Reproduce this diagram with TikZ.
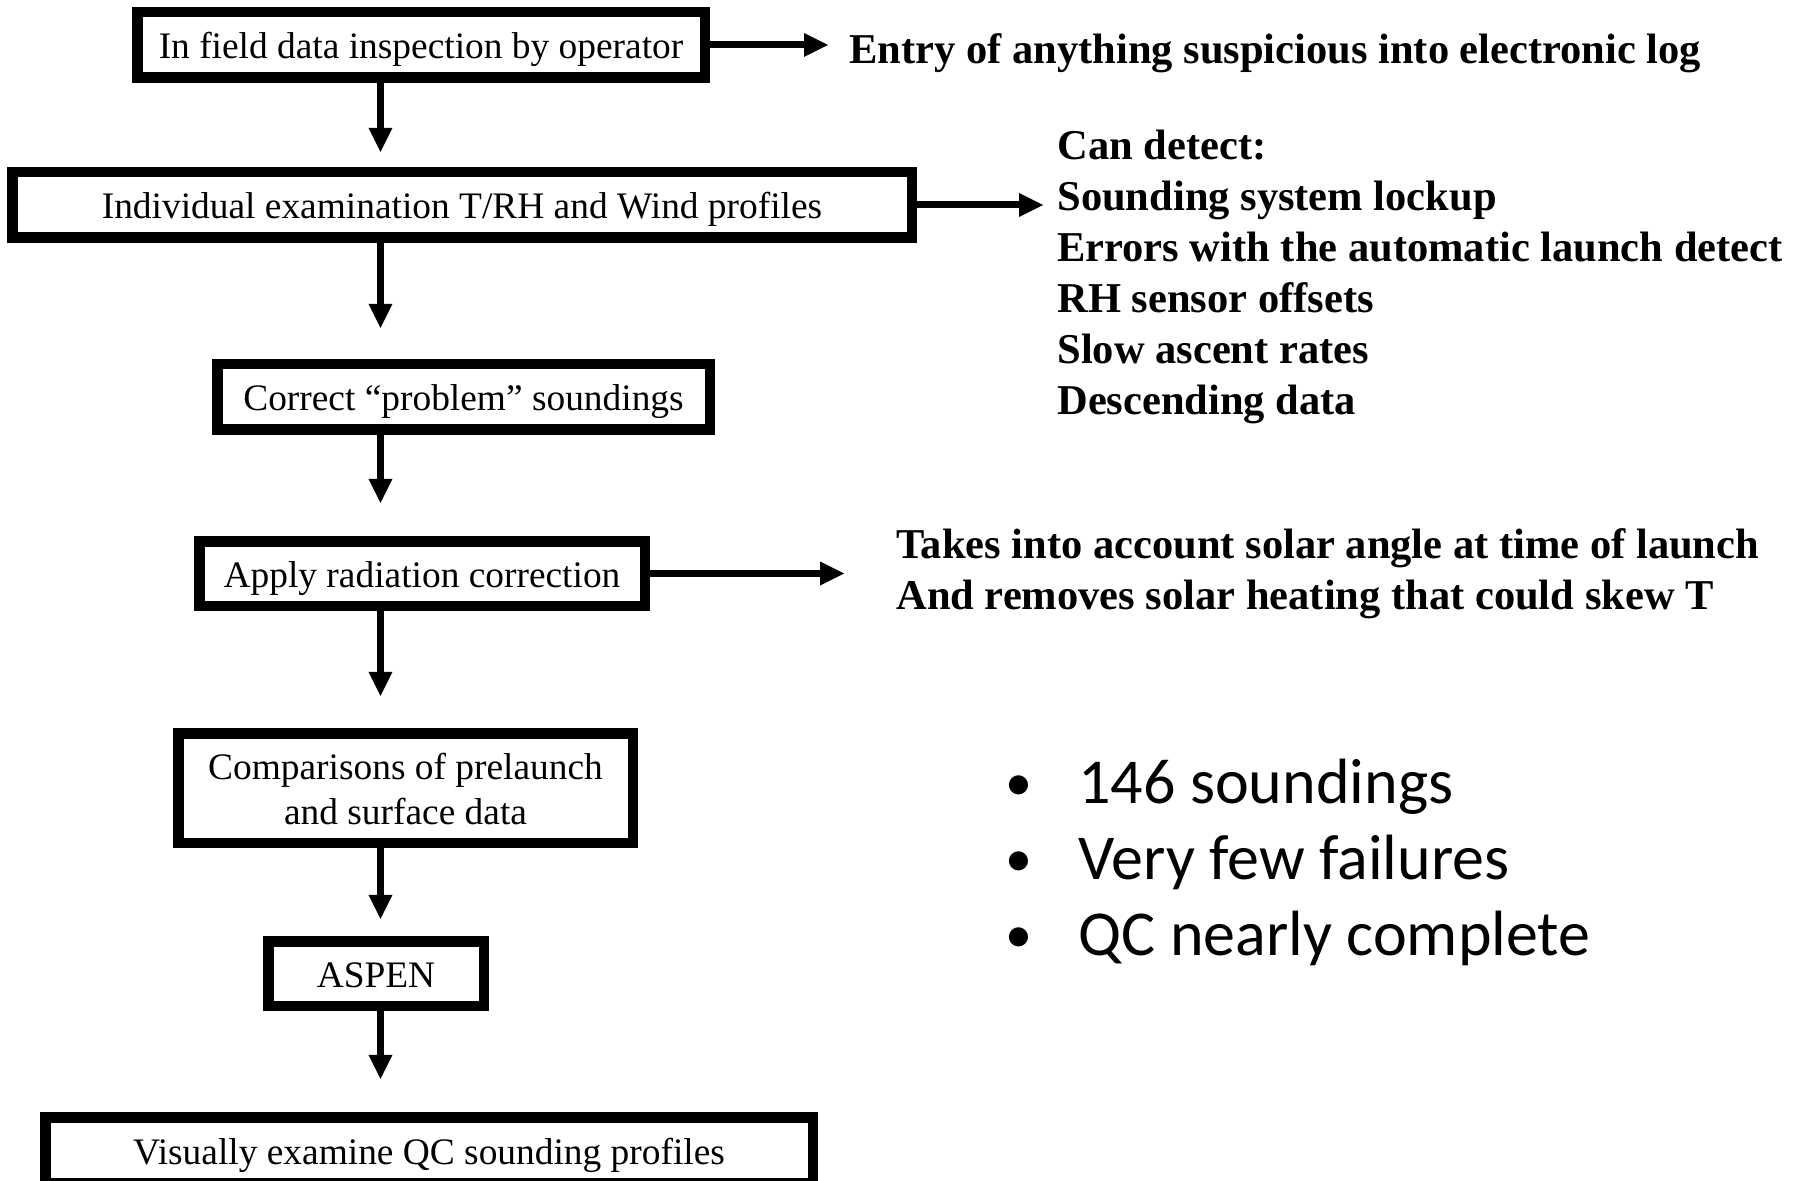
\documentclass[tikz,border=0pt]{standalone}
\usepackage{fontspec}
\setmainfont{Liberation Serif}
\newfontfamily\calibrifont{Carlito}
\usetikzlibrary{arrows.meta}
\begin{document}
\begin{tikzpicture}[x=0.5pt,y=-0.5pt,
  box/.style={draw, line width=5.25pt, fill=white, inner sep=0pt,
    font=\fontsize{18.7}{22.5}\selectfont, text height=16pt, text depth=2pt,
    minimum height=32.75pt},
  flow/.style={line width=3.5pt, -{Triangle[length=12pt,width=12pt,line width=0pt]}},
  note/.style={anchor=base west, inner sep=0pt, font=\fontsize{21.25}{25}\selectfont\bfseries},
  bul/.style={anchor=base, inner sep=0pt, font=\calibrifont\fontsize{27}{32}\selectfont},
  bultext/.style={anchor=base west, inner sep=0pt, font=\calibrifont\fontsize{32}{38}\selectfont}]
\useasboundingbox (0,0) rectangle (1802,1181);
\clip (0,0) rectangle (1802,1181);

% flow boxes
\node[box, minimum width=283.75pt] (B1) at (421,45) {In field data inspection by operator};
\node[box, minimum width=449.75pt] (B2) at (462,205) {Individual examination T/RH and Wind profiles};
\node[box, minimum width=246.25pt] (B3) at (463.5,397) {Correct “problem” soundings};
\node[box, minimum width=222.75pt, minimum height=32.25pt] (B4) at (422,573.5) {Apply radiation correction};
\node[box, minimum width=227.25pt, minimum height=54.75pt, text height=10pt, text depth=19pt] (B5) at (405.5,788)
  {\begin{tabular}[t]{@{}c@{}}Comparisons of prelaunch\\ and surface data\end{tabular}};
\node[box, minimum width=107.75pt, minimum height=32.25pt] (B6) at (376,973.5) {ASPEN};
\node[box, minimum width=383.75pt] (B7) at (429,1150) {Visually examine QC sounding profiles};

% vertical connectors
\coordinate (ax) at (380.5,0);
\draw[flow, shorten >=7.6pt]  (B1.south -| ax) -- (B2.north -| ax);
\draw[flow, shorten >=15.6pt] (B2.south -| ax) -- (B3.north -| ax);
\draw[flow, shorten >=16.6pt] (B3.south -| ax) -- (B4.north -| ax);
\draw[flow, shorten >=16.1pt] (B4.south -| ax) -- (B5.north -| ax);
\draw[flow, shorten >=8.6pt]  (B5.south -| ax) -- (B6.north -| ax);
\draw[flow, shorten >=16.6pt] (B6.south -| ax) -- (B7.north -| ax);

% horizontal connectors
\coordinate (t1) at (828,45);
\coordinate (t2) at (1043,205);
\coordinate (t4) at (844,573.5);
\draw[flow] (B1.east) -- (t1);
\draw[flow] (B2.east) -- (t2);
\draw[flow] (B4.east) -- (t4);

% notes
\node[note] (n1) at (849,64) {Entry of anything suspicious into electronic log};
\node[note] (d0) at (1057,160) {Can detect:};
\node[note] (d1) at (1057,211) {Sounding system lockup};
\node[note] (d2) at (1057,262) {Errors with the automatic launch detect};
\node[note] (d3) at (1057,313) {RH sensor offsets};
\node[note] (d4) at (1057,364) {Slow ascent rates};
\node[note] (d5) at (1057,415) {Descending data};
\node[note] (r1) at (896,558.5) {Takes into account solar angle at time of launch};
\node[note] (r2) at (896,609) {And removes solar heating that could skew T};

% bullets
\node[bul] (k1) at (1019,800) {•};
\node[bul] (k2) at (1019,876) {•};
\node[bul] (k3) at (1019,952) {•};
\node[bultext] (s1) at (1078,803) {146 soundings};
\node[bultext] (s2) at (1078,879) {Very few failures};
\node[bultext] (s3) at (1078,955) {QC nearly complete};
\end{tikzpicture}
\end{document}
